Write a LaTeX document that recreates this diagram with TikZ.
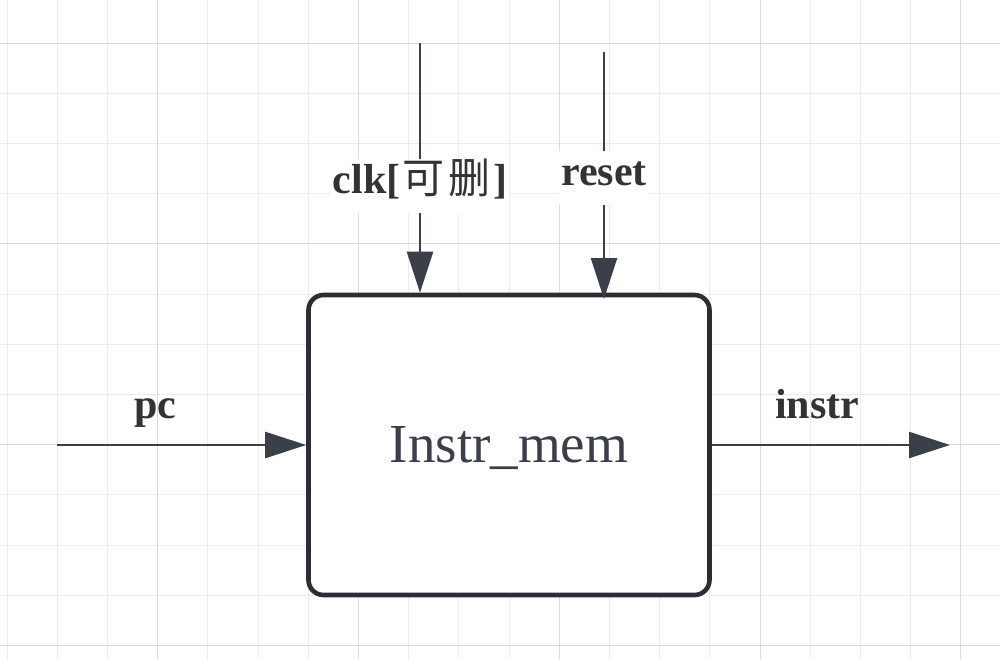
\documentclass[tikz,border=0pt]{standalone}
\usepackage{fontspec}
\setmainfont{Liberation Serif}
\newfontfamily\cjkfont{Noto Sans CJK SC}
\usetikzlibrary{arrows.meta}
\definecolor{gridfine}{HTML}{ECECEC}
\definecolor{gridbold}{HTML}{DCDCDC}
\definecolor{boxline}{HTML}{2B2F35}
\definecolor{arrline}{HTML}{3A3F4A}
\definecolor{labeltxt}{HTML}{333333}
\definecolor{memtxt}{HTML}{3A3F4A}
\tikzset{
  conn/.style={draw=arrline, line width=2.4pt, -{Triangle[length=41pt,width=26pt]}},
  portlabel/.style={text=labeltxt, font=\fontsize{42}{44}\selectfont\bfseries, inner sep=0pt, anchor=base},
  vlabel/.style={portlabel, fill=white, inner xsep=2pt, inner ysep=10pt, text height=24pt, text depth=10pt},
  membox/.style={draw=boxline, line width=4.6pt, rounded corners=15pt, fill=white,
    minimum width=401pt, minimum height=300pt, inner sep=0pt,
    text=memtxt, font=\fontsize{55}{58}\selectfont}
}
\begin{document}
\begin{tikzpicture}[x=1pt,y=-1pt]
\useasboundingbox (0,0) rectangle (1000,659);
\fill[white] (0,0) rectangle (1000,659);
% grid
\foreach \i in {0,...,19} {
  \pgfmathsetmacro{\xx}{7+50.2*\i}
  \draw[gridfine, line width=1pt] (\xx,0) -- (\xx,659);
}
\foreach \i in {0,...,13} {
  \pgfmathsetmacro{\yy}{-7.2+50.2*\i}
  \draw[gridfine, line width=1pt] (0,\yy) -- (1000,\yy);
}
\foreach \i in {0,...,4} {
  \pgfmathsetmacro{\xx}{157.6+200.8*\i}
  \draw[gridbold, line width=1pt] (\xx,0) -- (\xx,659);
}
\foreach \i in {0,...,3} {
  \pgfmathsetmacro{\yy}{43+200.8*\i}
  \draw[gridbold, line width=1pt] (0,\yy) -- (1000,\yy);
}
% box
\node[membox] (mem) at (509,445) {};
\node[text=memtxt, font=\fontsize{55}{58}\selectfont, anchor=base, inner sep=0pt] (memlabel) at (509,462) {Instr\_mem};
% free ends
\coordinate (pcstart) at (57,445);
\coordinate (instrend) at (950,445);
\coordinate (clkstart) at (420,43);
\coordinate (resetstart) at (604,52);
\coordinate (resetend) at (604,299);
% connectors
\draw[conn] (pcstart) -- (mem.west);
\draw[conn] (mem.east) -- (instrend);
\draw[conn] (clkstart) -- (clkstart |- mem.north);
\draw[conn] (resetstart) -- (resetend);
% labels
\node[portlabel] (pclabel) at (155,418) {pc};
\node[portlabel] (instrlabel) at (817,418) {instr};
\node[vlabel] (clklabel) at (420,193) {clk[\hspace{2pt}{\mdseries\cjkfont 可\hspace{4pt}删}\hspace{3pt}]};
\node[vlabel] (resetlabel) at (604,185) {reset};
\end{tikzpicture}
\end{document}
